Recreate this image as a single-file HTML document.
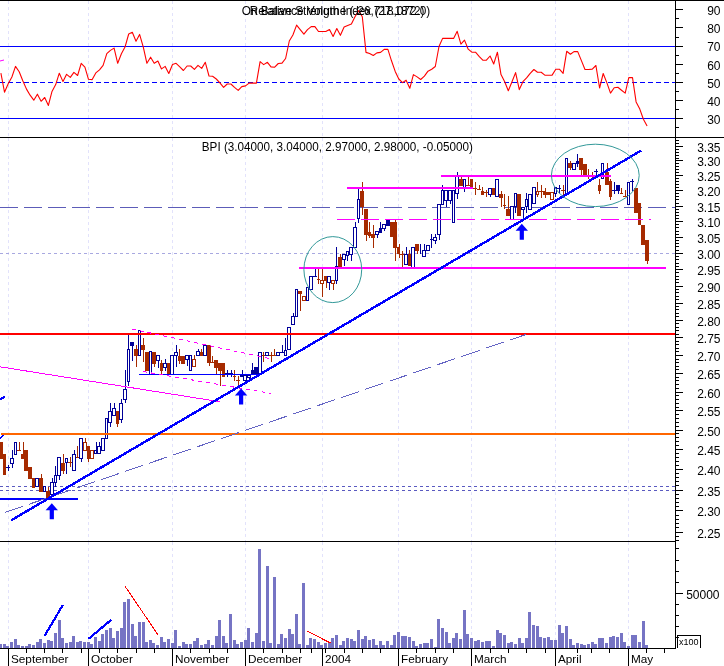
<!DOCTYPE html>
<html lang="en"><head><meta charset="utf-8"><title>BPI chart</title>
<style>html,body{margin:0;padding:0;background:#fff}svg{display:block}text{font-family:"Liberation Sans",Arial,sans-serif;fill:#000}</style></head><body>
<svg width="724" height="666" viewBox="0 0 724 666">
<rect x="0" y="0" width="724" height="666" fill="#fff"/>
<g shape-rendering="crispEdges" stroke="#e2e2fb" stroke-width="1" stroke-dasharray="3 3">
<line x1="8.5" y1="1" x2="8.5" y2="137"/>
<line x1="8.5" y1="138" x2="8.5" y2="541"/>
<line x1="8.5" y1="542" x2="8.5" y2="648"/>
<line x1="88.5" y1="1" x2="88.5" y2="137"/>
<line x1="88.5" y1="138" x2="88.5" y2="541"/>
<line x1="88.5" y1="542" x2="88.5" y2="648"/>
<line x1="172.5" y1="1" x2="172.5" y2="137"/>
<line x1="172.5" y1="138" x2="172.5" y2="541"/>
<line x1="172.5" y1="542" x2="172.5" y2="648"/>
<line x1="245.5" y1="1" x2="245.5" y2="137"/>
<line x1="245.5" y1="138" x2="245.5" y2="541"/>
<line x1="245.5" y1="542" x2="245.5" y2="648"/>
<line x1="322.5" y1="1" x2="322.5" y2="137"/>
<line x1="322.5" y1="138" x2="322.5" y2="541"/>
<line x1="322.5" y1="542" x2="322.5" y2="648"/>
<line x1="398.5" y1="1" x2="398.5" y2="137"/>
<line x1="398.5" y1="138" x2="398.5" y2="541"/>
<line x1="398.5" y1="542" x2="398.5" y2="648"/>
<line x1="471.5" y1="1" x2="471.5" y2="137"/>
<line x1="471.5" y1="138" x2="471.5" y2="541"/>
<line x1="471.5" y1="542" x2="471.5" y2="648"/>
<line x1="555.5" y1="1" x2="555.5" y2="137"/>
<line x1="555.5" y1="138" x2="555.5" y2="541"/>
<line x1="555.5" y1="542" x2="555.5" y2="648"/>
<line x1="628.5" y1="1" x2="628.5" y2="137"/>
<line x1="628.5" y1="138" x2="628.5" y2="541"/>
<line x1="628.5" y1="542" x2="628.5" y2="648"/>
</g>
<g shape-rendering="crispEdges" stroke="#0000ff" stroke-width="1">
<line x1="0" y1="46.5" x2="675" y2="46.5"/>
<line x1="0" y1="118.5" x2="675" y2="118.5"/>
<line x1="0" y1="82.5" x2="675" y2="82.5" stroke-dasharray="5 3"/>
</g>
<polyline points="0.9,73.2 4.5,92.2 8.2,83.8 11.9,77.0 15.5,66.4 19.2,71.7 22.8,80.8 26.5,89.1 30.1,95.2 33.8,100.2 37.4,94.2 41.1,101.3 44.7,97.5 48.4,105.4 52.0,91.4 55.7,84.6 59.3,73.2 63.0,81.6 66.6,74.3 70.3,77.4 73.9,72.4 77.6,75.5 81.2,63.3 84.9,67.1 88.5,79.3 92.2,79.6 95.8,72.9 99.5,69.8 103.1,65.3 106.8,53.7 110.4,50.4 114.1,48.1 117.7,63.3 121.4,53.7 125.0,47.1 128.7,34.0 132.3,32.2 136.0,41.3 139.6,34.4 143.3,47.1 146.9,63.3 150.6,57.2 154.2,63.3 157.9,61.0 161.5,68.9 165.2,66.4 168.8,73.5 172.5,64.5 176.1,63.3 179.8,66.8 183.4,70.5 187.1,66.0 190.7,66.0 194.4,69.4 198.0,65.3 201.7,68.4 205.3,62.3 209.0,76.0 212.6,76.3 216.3,79.0 219.9,82.8 223.6,87.4 227.2,84.0 230.9,84.0 234.5,87.4 238.2,90.4 241.8,86.6 245.5,85.9 249.1,83.1 252.8,83.1 256.4,83.1 260.1,61.6 263.7,64.6 267.4,62.3 271.0,66.9 274.7,67.2 278.3,63.5 282.0,63.1 285.6,58.5 289.3,41.0 292.9,35.0 296.6,25.1 300.2,29.6 303.9,34.2 307.5,29.6 311.2,26.6 314.9,26.6 318.5,31.5 322.2,31.5 325.8,31.5 329.5,29.6 333.1,36.5 336.8,28.6 340.4,35.3 344.1,27.1 347.7,25.5 351.4,24.0 355.0,16.7 358.7,10.6 362.3,16.7 366.0,52.4 369.6,53.5 373.3,55.5 376.9,52.9 380.6,52.4 384.2,49.4 387.9,49.4 391.5,60.8 395.2,71.4 398.8,79.0 402.5,82.6 406.1,80.2 409.8,88.3 413.4,74.6 417.1,76.9 420.7,79.5 424.4,76.1 428.0,71.2 431.7,69.3 435.3,66.5 439.0,46.5 442.6,38.4 446.3,38.4 449.9,38.4 453.6,38.4 457.2,31.3 460.9,44.2 464.5,40.1 468.2,49.2 471.8,52.2 475.5,52.2 479.1,56.4 482.8,60.2 486.4,60.2 490.1,56.0 493.7,64.0 497.4,52.2 501.0,74.6 504.7,81.7 508.3,90.8 512.0,81.7 515.6,72.6 519.3,89.6 522.9,81.7 526.6,77.9 530.2,73.3 533.9,69.5 537.5,72.2 541.2,72.2 544.8,75.1 548.5,75.3 552.1,75.1 555.8,69.2 559.4,69.2 563.1,73.3 566.7,51.3 570.4,54.3 574.0,51.6 577.7,51.6 581.3,60.4 585.0,69.5 588.6,69.5 592.3,69.1 595.9,65.5 599.6,88.0 603.2,73.5 606.9,82.9 610.5,93.1 614.2,87.7 617.9,87.3 621.5,90.2 625.2,93.1 628.8,77.6 632.5,77.6 636.1,101.9 639.8,109.1 643.4,119.3 647.1,125.9" fill="none" stroke="#ff0000" stroke-width="1.1" stroke-linejoin="round"/>
<line x1="0" y1="61" x2="4" y2="60" stroke="#ff00ff" stroke-width="1"/>
<g shape-rendering="crispEdges">
<line x1="0" y1="253.5" x2="675" y2="253.5" stroke="#a8a8e0" stroke-dasharray="3 3"/>
<line x1="0" y1="486.5" x2="675" y2="486.5" stroke="#5a5ac0" stroke-dasharray="3 3"/>
<line x1="0" y1="490.5" x2="675" y2="490.5" stroke="#5a5ac0" stroke-dasharray="3 3"/>
<line x1="0" y1="207.5" x2="675" y2="207.5" stroke="#5c5cb8" stroke-dasharray="18 6"/>
</g>
<g shape-rendering="crispEdges">
<rect x="-1" y="442" width="4" height="17" fill="#a62a00"/>
<rect x="3" y="454" width="3" height="21" fill="#a62a00"/>
<line x1="8.5" y1="465" x2="8.5" y2="471" stroke="#000099"/>
<line x1="6" y1="467.5" x2="10" y2="467.5" stroke="#000099"/>
<line x1="12.5" y1="450" x2="12.5" y2="458" stroke="#000099"/>
<line x1="12.5" y1="463" x2="12.5" y2="468" stroke="#000099"/>
<rect x="10.5" y="458.5" width="3" height="5" fill="#fff" stroke="#000099"/>
<rect x="14.5" y="442.5" width="2" height="12" fill="#fff" stroke="#000099"/>
<line x1="19.5" y1="442" x2="19.5" y2="451" stroke="#a62a00"/>
<line x1="17" y1="450.5" x2="21" y2="450.5" stroke="#a62a00"/>
<line x1="23.5" y1="442" x2="23.5" y2="454" stroke="#a62a00"/>
<rect x="21" y="454" width="3" height="5" fill="#a62a00"/>
<rect x="24" y="450" width="4" height="21" fill="#a62a00"/>
<rect x="28" y="467" width="4" height="12" fill="#a62a00"/>
<rect x="32" y="478" width="3" height="10" fill="#a62a00"/>
<rect x="35.5" y="478.5" width="3" height="8" fill="#fff" stroke="#000099"/>
<line x1="41.5" y1="474" x2="41.5" y2="478" stroke="#a62a00"/>
<rect x="39" y="478" width="4" height="14" fill="#a62a00"/>
<rect x="43.5" y="486.5" width="2" height="5" fill="#fff" stroke="#000099"/>
<line x1="48.5" y1="487" x2="48.5" y2="491" stroke="#a62a00"/>
<rect x="46" y="491" width="4" height="7" fill="#a62a00"/>
<line x1="52.5" y1="478" x2="52.5" y2="482" stroke="#000099"/>
<rect x="50.5" y="482.5" width="3" height="12" fill="#fff" stroke="#000099"/>
<line x1="55.5" y1="466" x2="55.5" y2="475" stroke="#000099"/>
<line x1="55.5" y1="482" x2="55.5" y2="487" stroke="#000099"/>
<rect x="54.5" y="475.5" width="2" height="7" fill="#fff" stroke="#000099"/>
<line x1="59.5" y1="475" x2="59.5" y2="480" stroke="#000099"/>
<rect x="57.5" y="457.5" width="3" height="18" fill="#fff" stroke="#000099"/>
<line x1="63.5" y1="454" x2="63.5" y2="463" stroke="#a62a00"/>
<line x1="63.5" y1="470" x2="63.5" y2="474" stroke="#a62a00"/>
<rect x="61" y="463" width="4" height="8" fill="#a62a00"/>
<line x1="66.5" y1="462" x2="66.5" y2="474" stroke="#000099"/>
<rect x="65.5" y="458.5" width="2" height="4" fill="#fff" stroke="#000099"/>
<line x1="70.5" y1="457" x2="70.5" y2="467" stroke="#a62a00"/>
<line x1="68" y1="462.5" x2="72" y2="462.5" stroke="#a62a00"/>
<line x1="74.5" y1="450" x2="74.5" y2="454" stroke="#000099"/>
<rect x="72.5" y="454.5" width="3" height="16" fill="#fff" stroke="#000099"/>
<line x1="77.5" y1="446" x2="77.5" y2="458" stroke="#a62a00"/>
<line x1="76" y1="457.5" x2="79" y2="457.5" stroke="#a62a00"/>
<line x1="81.5" y1="458" x2="81.5" y2="462" stroke="#000099"/>
<rect x="79.5" y="438.5" width="3" height="20" fill="#fff" stroke="#000099"/>
<line x1="85.5" y1="438" x2="85.5" y2="442" stroke="#a62a00"/>
<rect x="83.5" y="442.5" width="3" height="8" fill="#fff" stroke="#a62a00"/>
<line x1="88.5" y1="458" x2="88.5" y2="462" stroke="#a62a00"/>
<rect x="87" y="446" width="3" height="13" fill="#a62a00"/>
<rect x="90.5" y="450.5" width="3" height="8" fill="#fff" stroke="#a62a00"/>
<line x1="96.5" y1="442" x2="96.5" y2="450" stroke="#000099"/>
<rect x="94.5" y="450.5" width="2" height="3" fill="#fff" stroke="#000099"/>
<line x1="99.5" y1="442" x2="99.5" y2="446" stroke="#000099"/>
<rect x="97.5" y="446.5" width="3" height="7" fill="#fff" stroke="#000099"/>
<rect x="101.5" y="438.5" width="3" height="12" fill="#fff" stroke="#000099"/>
<rect x="105.5" y="418.5" width="2" height="20" fill="#fff" stroke="#000099"/>
<line x1="110.5" y1="403" x2="110.5" y2="411" stroke="#000099"/>
<line x1="110.5" y1="422" x2="110.5" y2="427" stroke="#000099"/>
<rect x="108.5" y="411.5" width="3" height="11" fill="#fff" stroke="#000099"/>
<line x1="114.5" y1="403" x2="114.5" y2="408" stroke="#000099"/>
<rect x="112.5" y="408.5" width="3" height="7" fill="#fff" stroke="#000099"/>
<line x1="117.5" y1="423" x2="117.5" y2="427" stroke="#a62a00"/>
<rect x="116" y="411" width="3" height="13" fill="#a62a00"/>
<line x1="121.5" y1="399" x2="121.5" y2="403" stroke="#000099"/>
<line x1="121.5" y1="419" x2="121.5" y2="423" stroke="#000099"/>
<rect x="119.5" y="403.5" width="3" height="16" fill="#fff" stroke="#000099"/>
<line x1="125.5" y1="370" x2="125.5" y2="389" stroke="#000099"/>
<line x1="125.5" y1="399" x2="125.5" y2="403" stroke="#000099"/>
<rect x="123.5" y="389.5" width="3" height="10" fill="#fff" stroke="#000099"/>
<line x1="128.5" y1="335" x2="128.5" y2="349" stroke="#000099"/>
<line x1="128.5" y1="381" x2="128.5" y2="386" stroke="#000099"/>
<rect x="127.5" y="349.5" width="2" height="32" fill="#fff" stroke="#000099"/>
<line x1="132.5" y1="345" x2="132.5" y2="361" stroke="#000099"/>
<rect x="130" y="342" width="4" height="4" fill="#000099"/>
<line x1="136.5" y1="345" x2="136.5" y2="349" stroke="#a62a00"/>
<line x1="136.5" y1="355" x2="136.5" y2="367" stroke="#a62a00"/>
<rect x="134" y="349" width="4" height="7" fill="#a62a00"/>
<rect x="138.5" y="330.5" width="2" height="25" fill="#fff" stroke="#000099"/>
<line x1="143.5" y1="338" x2="143.5" y2="345" stroke="#a62a00"/>
<line x1="143.5" y1="349" x2="143.5" y2="362" stroke="#a62a00"/>
<rect x="141" y="345" width="4" height="5" fill="#a62a00"/>
<rect x="145" y="352" width="4" height="19" fill="#a62a00"/>
<rect x="149.5" y="351.5" width="2" height="23" fill="#fff" stroke="#000099"/>
<line x1="154.5" y1="363" x2="154.5" y2="367" stroke="#a62a00"/>
<rect x="152" y="352" width="4" height="12" fill="#a62a00"/>
<line x1="158.5" y1="360" x2="158.5" y2="368" stroke="#000099"/>
<rect x="156.5" y="355.5" width="3" height="5" fill="#fff" stroke="#000099"/>
<line x1="161.5" y1="360" x2="161.5" y2="363" stroke="#a62a00"/>
<line x1="161.5" y1="370" x2="161.5" y2="375" stroke="#a62a00"/>
<rect x="160" y="363" width="3" height="8" fill="#a62a00"/>
<line x1="165.5" y1="359" x2="165.5" y2="363" stroke="#000099"/>
<line x1="165.5" y1="367" x2="165.5" y2="371" stroke="#000099"/>
<rect x="163.5" y="363.5" width="3" height="4" fill="#fff" stroke="#000099"/>
<rect x="167" y="363" width="3" height="12" fill="#a62a00"/>
<rect x="170.5" y="355.5" width="3" height="19" fill="#fff" stroke="#000099"/>
<line x1="176.5" y1="345" x2="176.5" y2="352" stroke="#000099"/>
<line x1="176.5" y1="355" x2="176.5" y2="367" stroke="#000099"/>
<rect x="174.5" y="352.5" width="3" height="3" fill="#fff" stroke="#000099"/>
<line x1="179.5" y1="349" x2="179.5" y2="356" stroke="#a62a00"/>
<line x1="179.5" y1="360" x2="179.5" y2="364" stroke="#a62a00"/>
<rect x="178" y="356" width="3" height="5" fill="#a62a00"/>
<rect x="181" y="356" width="4" height="8" fill="#a62a00"/>
<line x1="187.5" y1="359" x2="187.5" y2="366" stroke="#000099"/>
<rect x="185.5" y="355.5" width="3" height="4" fill="#fff" stroke="#000099"/>
<rect x="189.5" y="355.5" width="2" height="15" fill="#fff" stroke="#000099"/>
<line x1="194.5" y1="355" x2="194.5" y2="359" stroke="#a62a00"/>
<rect x="192.5" y="359.5" width="3" height="7" fill="#fff" stroke="#a62a00"/>
<line x1="198.5" y1="349" x2="198.5" y2="351" stroke="#000099"/>
<rect x="196.5" y="351.5" width="3" height="4" fill="#fff" stroke="#000099"/>
<line x1="201.5" y1="349" x2="201.5" y2="352" stroke="#a62a00"/>
<rect x="200" y="352" width="3" height="4" fill="#a62a00"/>
<rect x="203.5" y="345.5" width="3" height="10" fill="#fff" stroke="#000099"/>
<line x1="209.5" y1="362" x2="209.5" y2="366" stroke="#a62a00"/>
<rect x="207" y="345" width="4" height="18" fill="#a62a00"/>
<line x1="212.5" y1="356" x2="212.5" y2="363" stroke="#a62a00"/>
<line x1="211" y1="362.5" x2="214" y2="362.5" stroke="#a62a00"/>
<line x1="216.5" y1="367" x2="216.5" y2="375" stroke="#a62a00"/>
<rect x="214" y="360" width="4" height="8" fill="#a62a00"/>
<line x1="220.5" y1="370" x2="220.5" y2="386" stroke="#a62a00"/>
<rect x="218" y="363" width="4" height="8" fill="#a62a00"/>
<rect x="222" y="363" width="3" height="14" fill="#a62a00"/>
<line x1="227.5" y1="370" x2="227.5" y2="377" stroke="#000099"/>
<line x1="225" y1="373.5" x2="229" y2="373.5" stroke="#000099"/>
<line x1="231.5" y1="370" x2="231.5" y2="377" stroke="#000099"/>
<line x1="229" y1="373.5" x2="233" y2="373.5" stroke="#000099"/>
<line x1="234.5" y1="370" x2="234.5" y2="381" stroke="#a62a00"/>
<line x1="233" y1="376.5" x2="236" y2="376.5" stroke="#a62a00"/>
<line x1="238.5" y1="376" x2="238.5" y2="386" stroke="#a62a00"/>
<line x1="236" y1="380.5" x2="240" y2="380.5" stroke="#a62a00"/>
<line x1="242.5" y1="370" x2="242.5" y2="375" stroke="#000099"/>
<rect x="240.5" y="375.5" width="2" height="1" fill="#fff" stroke="#000099"/>
<rect x="243.5" y="375.5" width="3" height="5" fill="#fff" stroke="#000099"/>
<line x1="249.5" y1="377" x2="249.5" y2="381" stroke="#000099"/>
<rect x="247.5" y="375.5" width="3" height="2" fill="#fff" stroke="#000099"/>
<line x1="252.5" y1="363" x2="252.5" y2="370" stroke="#000099"/>
<rect x="251" y="370" width="3" height="4" fill="#000099"/>
<rect x="254" y="367" width="4" height="8" fill="#000099"/>
<rect x="258.5" y="352.5" width="3" height="21" fill="#fff" stroke="#000099"/>
<line x1="263.5" y1="352" x2="263.5" y2="362" stroke="#a62a00"/>
<line x1="262" y1="355.5" x2="265" y2="355.5" stroke="#a62a00"/>
<rect x="265.5" y="352.5" width="3" height="3" fill="#fff" stroke="#000099"/>
<line x1="271.5" y1="352" x2="271.5" y2="362" stroke="#a62a00"/>
<line x1="269" y1="355.5" x2="273" y2="355.5" stroke="#a62a00"/>
<line x1="274.5" y1="349" x2="274.5" y2="356" stroke="#a62a00"/>
<line x1="273" y1="355.5" x2="276" y2="355.5" stroke="#a62a00"/>
<rect x="276.5" y="352.5" width="3" height="3" fill="#fff" stroke="#000099"/>
<line x1="282.5" y1="345" x2="282.5" y2="353" stroke="#000099"/>
<line x1="280" y1="352.5" x2="284" y2="352.5" stroke="#000099"/>
<line x1="285.5" y1="338" x2="285.5" y2="350" stroke="#000099"/>
<rect x="284.5" y="350.5" width="2" height="5" fill="#fff" stroke="#000099"/>
<rect x="287.5" y="327.5" width="3" height="22" fill="#fff" stroke="#000099"/>
<line x1="293.5" y1="313" x2="293.5" y2="316" stroke="#000099"/>
<rect x="291.5" y="316.5" width="3" height="8" fill="#fff" stroke="#000099"/>
<rect x="295.5" y="289.5" width="2" height="27" fill="#fff" stroke="#000099"/>
<line x1="300.5" y1="293" x2="300.5" y2="311" stroke="#a62a00"/>
<rect x="298" y="291" width="4" height="3" fill="#a62a00"/>
<rect x="302.5" y="296.5" width="3" height="4" fill="#fff" stroke="#a62a00"/>
<rect x="306.5" y="287.5" width="2" height="13" fill="#fff" stroke="#000099"/>
<rect x="309.5" y="276.5" width="3" height="13" fill="#fff" stroke="#000099"/>
<line x1="315.5" y1="268" x2="315.5" y2="277" stroke="#000099"/>
<line x1="313" y1="276.5" x2="317" y2="276.5" stroke="#000099"/>
<line x1="318.5" y1="268" x2="318.5" y2="284" stroke="#a62a00"/>
<line x1="317" y1="279.5" x2="320" y2="279.5" stroke="#a62a00"/>
<line x1="322.5" y1="268" x2="322.5" y2="280" stroke="#a62a00"/>
<line x1="322.5" y1="283" x2="322.5" y2="297" stroke="#a62a00"/>
<rect x="320.5" y="280.5" width="3" height="3" fill="#fff" stroke="#a62a00"/>
<line x1="326.5" y1="280" x2="326.5" y2="288" stroke="#a62a00"/>
<rect x="324" y="276" width="3" height="5" fill="#a62a00"/>
<line x1="329.5" y1="282" x2="329.5" y2="290" stroke="#000099"/>
<rect x="327.5" y="276.5" width="3" height="6" fill="#fff" stroke="#000099"/>
<line x1="333.5" y1="283" x2="333.5" y2="290" stroke="#a62a00"/>
<rect x="331.5" y="280.5" width="3" height="3" fill="#fff" stroke="#a62a00"/>
<line x1="336.5" y1="247" x2="336.5" y2="266" stroke="#000099"/>
<line x1="336.5" y1="280" x2="336.5" y2="284" stroke="#000099"/>
<rect x="335.5" y="266.5" width="2" height="14" fill="#fff" stroke="#000099"/>
<line x1="340.5" y1="254" x2="340.5" y2="257" stroke="#a62a00"/>
<rect x="338" y="257" width="4" height="11" fill="#a62a00"/>
<line x1="344.5" y1="259" x2="344.5" y2="266" stroke="#000099"/>
<rect x="342.5" y="254.5" width="3" height="5" fill="#fff" stroke="#000099"/>
<line x1="347.5" y1="255" x2="347.5" y2="261" stroke="#000099"/>
<rect x="346.5" y="251.5" width="2" height="4" fill="#fff" stroke="#000099"/>
<line x1="351.5" y1="254" x2="351.5" y2="261" stroke="#000099"/>
<rect x="349.5" y="247.5" width="3" height="7" fill="#fff" stroke="#000099"/>
<line x1="355.5" y1="222" x2="355.5" y2="227" stroke="#000099"/>
<rect x="353.5" y="227.5" width="3" height="20" fill="#fff" stroke="#000099"/>
<line x1="358.5" y1="188" x2="358.5" y2="199" stroke="#000099"/>
<line x1="358.5" y1="218" x2="358.5" y2="223" stroke="#000099"/>
<rect x="357.5" y="199.5" width="2" height="19" fill="#fff" stroke="#000099"/>
<line x1="362.5" y1="182" x2="362.5" y2="191" stroke="#a62a00"/>
<line x1="362.5" y1="206" x2="362.5" y2="215" stroke="#a62a00"/>
<rect x="360" y="191" width="4" height="16" fill="#a62a00"/>
<line x1="366.5" y1="234" x2="366.5" y2="241" stroke="#a62a00"/>
<rect x="364" y="209" width="4" height="26" fill="#a62a00"/>
<line x1="369.5" y1="222" x2="369.5" y2="232" stroke="#a62a00"/>
<line x1="369.5" y1="235" x2="369.5" y2="238" stroke="#a62a00"/>
<rect x="368" y="232" width="3" height="4" fill="#a62a00"/>
<line x1="373.5" y1="225" x2="373.5" y2="234" stroke="#a62a00"/>
<line x1="373.5" y1="237" x2="373.5" y2="248" stroke="#a62a00"/>
<rect x="371" y="234" width="4" height="4" fill="#a62a00"/>
<line x1="377.5" y1="234" x2="377.5" y2="238" stroke="#000099"/>
<rect x="375.5" y="231.5" width="3" height="3" fill="#fff" stroke="#000099"/>
<line x1="380.5" y1="222" x2="380.5" y2="228" stroke="#000099"/>
<rect x="379" y="228" width="3" height="5" fill="#000099"/>
<line x1="384.5" y1="228" x2="384.5" y2="231" stroke="#000099"/>
<rect x="382.5" y="224.5" width="3" height="4" fill="#fff" stroke="#000099"/>
<rect x="386" y="220" width="4" height="6" fill="#000099"/>
<rect x="390" y="222" width="3" height="15" fill="#a62a00"/>
<line x1="395.5" y1="220" x2="395.5" y2="222" stroke="#a62a00"/>
<line x1="395.5" y1="247" x2="395.5" y2="261" stroke="#a62a00"/>
<rect x="393" y="222" width="4" height="26" fill="#a62a00"/>
<line x1="399.5" y1="244" x2="399.5" y2="247" stroke="#a62a00"/>
<line x1="399.5" y1="253" x2="399.5" y2="258" stroke="#a62a00"/>
<rect x="397" y="247" width="3" height="7" fill="#a62a00"/>
<line x1="402.5" y1="251" x2="402.5" y2="267" stroke="#a62a00"/>
<line x1="400" y1="254.5" x2="404" y2="254.5" stroke="#a62a00"/>
<line x1="406.5" y1="247" x2="406.5" y2="254" stroke="#000099"/>
<rect x="404.5" y="254.5" width="3" height="10" fill="#fff" stroke="#000099"/>
<line x1="409.5" y1="250" x2="409.5" y2="254" stroke="#a62a00"/>
<rect x="408" y="254" width="3" height="12" fill="#a62a00"/>
<rect x="411.5" y="247.5" width="3" height="20" fill="#fff" stroke="#000099"/>
<line x1="417.5" y1="250" x2="417.5" y2="254" stroke="#a62a00"/>
<rect x="415" y="244" width="4" height="7" fill="#a62a00"/>
<line x1="420.5" y1="244" x2="420.5" y2="254" stroke="#000099"/>
<line x1="424.5" y1="244" x2="424.5" y2="250" stroke="#000099"/>
<rect x="422.5" y="250.5" width="3" height="6" fill="#fff" stroke="#000099"/>
<rect x="426.5" y="245.5" width="3" height="5" fill="#fff" stroke="#000099"/>
<line x1="431.5" y1="234" x2="431.5" y2="248" stroke="#000099"/>
<line x1="430" y1="239.5" x2="433" y2="239.5" stroke="#000099"/>
<line x1="435.5" y1="234" x2="435.5" y2="237" stroke="#000099"/>
<line x1="435.5" y1="240" x2="435.5" y2="244" stroke="#000099"/>
<rect x="433.5" y="237.5" width="3" height="3" fill="#fff" stroke="#000099"/>
<line x1="439.5" y1="234" x2="439.5" y2="240" stroke="#000099"/>
<rect x="437.5" y="204.5" width="3" height="30" fill="#fff" stroke="#000099"/>
<line x1="442.5" y1="185" x2="442.5" y2="190" stroke="#000099"/>
<rect x="441.5" y="190.5" width="2" height="14" fill="#fff" stroke="#000099"/>
<line x1="446.5" y1="200" x2="446.5" y2="207" stroke="#000099"/>
<rect x="444.5" y="190.5" width="3" height="10" fill="#fff" stroke="#000099"/>
<line x1="450.5" y1="200" x2="450.5" y2="204" stroke="#000099"/>
<rect x="448.5" y="190.5" width="3" height="10" fill="#fff" stroke="#000099"/>
<rect x="452.5" y="190.5" width="2" height="32" fill="#fff" stroke="#000099"/>
<line x1="457.5" y1="172" x2="457.5" y2="176" stroke="#000099"/>
<line x1="457.5" y1="193" x2="457.5" y2="199" stroke="#000099"/>
<rect x="455.5" y="176.5" width="3" height="17" fill="#fff" stroke="#000099"/>
<line x1="461.5" y1="176" x2="461.5" y2="179" stroke="#a62a00"/>
<rect x="459" y="179" width="4" height="7" fill="#a62a00"/>
<line x1="464.5" y1="188" x2="464.5" y2="192" stroke="#000099"/>
<rect x="463.5" y="179.5" width="2" height="9" fill="#fff" stroke="#000099"/>
<line x1="468.5" y1="177" x2="468.5" y2="186" stroke="#a62a00"/>
<line x1="466" y1="185.5" x2="470" y2="185.5" stroke="#a62a00"/>
<rect x="470" y="179" width="3" height="9" fill="#a62a00"/>
<line x1="475.5" y1="182" x2="475.5" y2="195" stroke="#a62a00"/>
<line x1="473" y1="188.5" x2="477" y2="188.5" stroke="#a62a00"/>
<line x1="479.5" y1="185" x2="479.5" y2="190" stroke="#a62a00"/>
<line x1="477" y1="189.5" x2="481" y2="189.5" stroke="#a62a00"/>
<line x1="482.5" y1="187" x2="482.5" y2="191" stroke="#a62a00"/>
<rect x="481" y="191" width="3" height="4" fill="#a62a00"/>
<line x1="486.5" y1="190" x2="486.5" y2="197" stroke="#a62a00"/>
<line x1="484" y1="192.5" x2="488" y2="192.5" stroke="#a62a00"/>
<line x1="490.5" y1="194" x2="490.5" y2="197" stroke="#000099"/>
<rect x="488.5" y="188.5" width="3" height="6" fill="#fff" stroke="#000099"/>
<rect x="492" y="188" width="3" height="7" fill="#a62a00"/>
<rect x="495.5" y="179.5" width="3" height="17" fill="#fff" stroke="#000099"/>
<line x1="501.5" y1="191" x2="501.5" y2="194" stroke="#a62a00"/>
<line x1="501.5" y1="197" x2="501.5" y2="207" stroke="#a62a00"/>
<rect x="499" y="194" width="4" height="4" fill="#a62a00"/>
<line x1="504.5" y1="194" x2="504.5" y2="209" stroke="#a62a00"/>
<line x1="503" y1="205.5" x2="506" y2="205.5" stroke="#a62a00"/>
<line x1="508.5" y1="196" x2="508.5" y2="209" stroke="#a62a00"/>
<rect x="506" y="209" width="4" height="7" fill="#a62a00"/>
<rect x="510.5" y="206.5" width="3" height="13" fill="#fff" stroke="#000099"/>
<line x1="515.5" y1="206" x2="515.5" y2="213" stroke="#000099"/>
<rect x="514.5" y="193.5" width="2" height="13" fill="#fff" stroke="#000099"/>
<rect x="517" y="194" width="4" height="22" fill="#a62a00"/>
<line x1="523.5" y1="209" x2="523.5" y2="220" stroke="#000099"/>
<rect x="521.5" y="207.5" width="3" height="2" fill="#fff" stroke="#000099"/>
<line x1="526.5" y1="193" x2="526.5" y2="199" stroke="#000099"/>
<line x1="526.5" y1="206" x2="526.5" y2="213" stroke="#000099"/>
<rect x="525.5" y="199.5" width="2" height="7" fill="#fff" stroke="#000099"/>
<rect x="528.5" y="194.5" width="3" height="15" fill="#fff" stroke="#000099"/>
<rect x="532.5" y="187.5" width="3" height="16" fill="#fff" stroke="#000099"/>
<line x1="537.5" y1="182" x2="537.5" y2="191" stroke="#a62a00"/>
<line x1="537.5" y1="194" x2="537.5" y2="197" stroke="#a62a00"/>
<rect x="536.5" y="191.5" width="2" height="3" fill="#fff" stroke="#a62a00"/>
<line x1="541.5" y1="185" x2="541.5" y2="198" stroke="#a62a00"/>
<line x1="539" y1="191.5" x2="543" y2="191.5" stroke="#a62a00"/>
<line x1="545.5" y1="188" x2="545.5" y2="191" stroke="#a62a00"/>
<line x1="545.5" y1="194" x2="545.5" y2="198" stroke="#a62a00"/>
<rect x="543" y="191" width="3" height="4" fill="#a62a00"/>
<rect x="546" y="192" width="4" height="3" fill="#a62a00"/>
<rect x="550.5" y="192.5" width="3" height="7" fill="#fff" stroke="#a62a00"/>
<line x1="555.5" y1="193" x2="555.5" y2="197" stroke="#000099"/>
<rect x="554.5" y="187.5" width="2" height="6" fill="#fff" stroke="#000099"/>
<line x1="559.5" y1="185" x2="559.5" y2="193" stroke="#000099"/>
<line x1="557" y1="188.5" x2="561" y2="188.5" stroke="#000099"/>
<line x1="563.5" y1="185" x2="563.5" y2="195" stroke="#a62a00"/>
<line x1="561" y1="190.5" x2="565" y2="190.5" stroke="#a62a00"/>
<rect x="565.5" y="158.5" width="2" height="35" fill="#fff" stroke="#000099"/>
<line x1="570.5" y1="161" x2="570.5" y2="163" stroke="#a62a00"/>
<line x1="570.5" y1="167" x2="570.5" y2="170" stroke="#a62a00"/>
<rect x="568" y="163" width="4" height="5" fill="#a62a00"/>
<rect x="572.5" y="163.5" width="3" height="6" fill="#fff" stroke="#000099"/>
<line x1="577.5" y1="154" x2="577.5" y2="161" stroke="#000099"/>
<line x1="577.5" y1="163" x2="577.5" y2="167" stroke="#000099"/>
<rect x="576" y="161" width="3" height="3" fill="#000099"/>
<line x1="581.5" y1="169" x2="581.5" y2="176" stroke="#a62a00"/>
<rect x="579" y="158" width="4" height="12" fill="#a62a00"/>
<rect x="583" y="164" width="4" height="12" fill="#a62a00"/>
<line x1="588.5" y1="169" x2="588.5" y2="179" stroke="#a62a00"/>
<line x1="592.5" y1="172" x2="592.5" y2="179" stroke="#a62a00"/>
<line x1="596.5" y1="169" x2="596.5" y2="177" stroke="#000099"/>
<line x1="594" y1="171.5" x2="598" y2="171.5" stroke="#000099"/>
<line x1="599.5" y1="179" x2="599.5" y2="185" stroke="#a62a00"/>
<line x1="599.5" y1="190" x2="599.5" y2="194" stroke="#a62a00"/>
<rect x="598" y="185" width="3" height="6" fill="#a62a00"/>
<rect x="601.5" y="163.5" width="2" height="15" fill="#fff" stroke="#000099"/>
<line x1="607.5" y1="163" x2="607.5" y2="172" stroke="#a62a00"/>
<rect x="605" y="172" width="4" height="13" fill="#a62a00"/>
<line x1="610.5" y1="179" x2="610.5" y2="181" stroke="#a62a00"/>
<line x1="610.5" y1="196" x2="610.5" y2="200" stroke="#a62a00"/>
<rect x="609" y="181" width="3" height="16" fill="#a62a00"/>
<line x1="614.5" y1="182" x2="614.5" y2="194" stroke="#000099"/>
<line x1="612" y1="190.5" x2="616" y2="190.5" stroke="#000099"/>
<line x1="618.5" y1="190" x2="618.5" y2="194" stroke="#000099"/>
<rect x="616" y="185" width="4" height="6" fill="#000099"/>
<line x1="621.5" y1="188" x2="621.5" y2="194" stroke="#a62a00"/>
<line x1="620" y1="193.5" x2="623" y2="193.5" stroke="#a62a00"/>
<line x1="625.5" y1="190" x2="625.5" y2="197" stroke="#a62a00"/>
<line x1="623" y1="196.5" x2="627" y2="196.5" stroke="#a62a00"/>
<rect x="627.5" y="182.5" width="2" height="22" fill="#fff" stroke="#000099"/>
<line x1="632.5" y1="179" x2="632.5" y2="191" stroke="#000099"/>
<line x1="630" y1="181.5" x2="634" y2="181.5" stroke="#000099"/>
<rect x="634" y="188" width="4" height="25" fill="#a62a00"/>
<rect x="638" y="203" width="3" height="22" fill="#a62a00"/>
<rect x="641" y="225" width="4" height="20" fill="#a62a00"/>
<line x1="647.5" y1="260" x2="647.5" y2="264" stroke="#a62a00"/>
<rect x="645" y="240" width="4" height="21" fill="#a62a00"/>
</g>
<g shape-rendering="crispEdges">
<rect x="0" y="333" width="675" height="2" fill="#ff0000"/>
<rect x="1" y="433" width="674" height="2" fill="#ff6600"/>
<rect x="299" y="267" width="367" height="2" fill="#ff00ff"/>
<rect x="347" y="187" width="126" height="2" fill="#ff00ff"/>
<rect x="441" y="175" width="170" height="2" fill="#ff00ff"/>
<line x1="337" y1="219.5" x2="651" y2="219.5" stroke="#ff00ff" stroke-width="1.4" stroke-dasharray="18 6"/>
<rect x="0" y="498" width="78" height="2" fill="#0000ff"/>
<line x1="139" y1="374.5" x2="258" y2="374.5" stroke="#0000ff"/>
<line x1="0" y1="366.8" x2="219.7" y2="401.7" stroke="#ff00ff" stroke-width="1"/>
<line x1="131.8" y1="329" x2="273.4" y2="359.4" stroke="#ff00ff" stroke-width="1" stroke-dasharray="4 4"/>
<line x1="143.2" y1="371.6" x2="271" y2="393.4" stroke="#ff00ff" stroke-width="1" stroke-dasharray="4 4"/>
<line x1="4.8" y1="512.5" x2="526.3" y2="334.4" stroke="#6464c4" stroke-width="1" stroke-dasharray="19 6.4"/>
<line x1="11.7" y1="520" x2="640.4" y2="151" stroke="#0000ff" stroke-width="2.4" stroke-linecap="round"/>
<line x1="0" y1="399.4" x2="4.7" y2="396.8" stroke="#0000ff" stroke-width="2.6"/>
<line x1="0" y1="438.4" x2="3.8" y2="435" stroke="#0000ff" stroke-width="1"/>
</g>
<ellipse cx="332.8" cy="269.6" rx="28.9" ry="33" fill="none" stroke="#339999" stroke-width="1"/>
<ellipse cx="595.3" cy="175.4" rx="43.9" ry="31.2" fill="none" stroke="#339999" stroke-width="1"/>
<polygon points="51.8,503.3 58.0,510.3 53.9,510.3 53.9,519.3 49.699999999999996,519.3 49.699999999999996,510.3 45.599999999999994,510.3" fill="#0000ff"/>
<polygon points="241.1,388.6 247.29999999999998,395.6 243.2,395.6 243.2,404.6 239.0,404.6 239.0,395.6 234.9,395.6" fill="#0000ff"/>
<polygon points="521.8,223.8 528.0,230.8 523.9,230.8 523.9,239.8 519.6999999999999,239.8 519.6999999999999,230.8 515.5999999999999,230.8" fill="#0000ff"/>
<g shape-rendering="crispEdges" fill="#7674c4">
<rect x="-1" y="644.0" width="3" height="4.0"/>
<rect x="3" y="644.0" width="3" height="4.0"/>
<rect x="6" y="646.3" width="3" height="1.7"/>
<rect x="10" y="642.4" width="3" height="5.6"/>
<rect x="14" y="639.3" width="3" height="8.7"/>
<rect x="17" y="645.1" width="3" height="2.9"/>
<rect x="21" y="646.2" width="3" height="1.8"/>
<rect x="25" y="646.2" width="3" height="1.8"/>
<rect x="28" y="644.0" width="3" height="4.0"/>
<rect x="32" y="645.4" width="3" height="2.6"/>
<rect x="36" y="641.8" width="3" height="6.2"/>
<rect x="39" y="639.3" width="3" height="8.7"/>
<rect x="43" y="643.3" width="3" height="4.7"/>
<rect x="47" y="640.1" width="3" height="7.9"/>
<rect x="50" y="641.0" width="3" height="7.0"/>
<rect x="54" y="633.3" width="3" height="14.7"/>
<rect x="58" y="620.3" width="3" height="27.7"/>
<rect x="61" y="638.3" width="3" height="9.7"/>
<rect x="65" y="643.3" width="3" height="4.7"/>
<rect x="69" y="642.1" width="3" height="5.9"/>
<rect x="72" y="636.3" width="3" height="11.7"/>
<rect x="76" y="642.4" width="3" height="5.6"/>
<rect x="79" y="641.0" width="3" height="7.0"/>
<rect x="83" y="642.4" width="3" height="5.6"/>
<rect x="87" y="642.4" width="3" height="5.6"/>
<rect x="90" y="644.4" width="3" height="3.6"/>
<rect x="94" y="637.2" width="3" height="10.8"/>
<rect x="98" y="641.0" width="3" height="7.0"/>
<rect x="101" y="634.2" width="3" height="13.8"/>
<rect x="105" y="630.2" width="3" height="17.8"/>
<rect x="109" y="627.6" width="3" height="20.4"/>
<rect x="112" y="638.3" width="3" height="9.7"/>
<rect x="116" y="631.4" width="3" height="16.6"/>
<rect x="120" y="627.6" width="3" height="20.4"/>
<rect x="123" y="602.3" width="3" height="45.7"/>
<rect x="127" y="599.2" width="3" height="48.8"/>
<rect x="131" y="623.5" width="3" height="24.5"/>
<rect x="134" y="636.0" width="3" height="12.0"/>
<rect x="138" y="621.6" width="3" height="26.4"/>
<rect x="142" y="621.6" width="3" height="26.4"/>
<rect x="145" y="642.1" width="3" height="5.9"/>
<rect x="149" y="640.2" width="3" height="7.8"/>
<rect x="152" y="643.3" width="3" height="4.7"/>
<rect x="156" y="645.1" width="3" height="2.9"/>
<rect x="160" y="637.2" width="3" height="10.8"/>
<rect x="163" y="642.4" width="3" height="5.6"/>
<rect x="167" y="639.0" width="3" height="9.0"/>
<rect x="171" y="642.8" width="3" height="5.2"/>
<rect x="174" y="630.2" width="3" height="17.8"/>
<rect x="178" y="646.2" width="3" height="1.8"/>
<rect x="182" y="642.1" width="3" height="5.9"/>
<rect x="185" y="644.0" width="3" height="4.0"/>
<rect x="189" y="644.0" width="3" height="4.0"/>
<rect x="193" y="641.0" width="3" height="7.0"/>
<rect x="196" y="638.3" width="3" height="9.7"/>
<rect x="200" y="645.1" width="3" height="2.9"/>
<rect x="204" y="644.4" width="3" height="3.6"/>
<rect x="207" y="640.2" width="3" height="7.8"/>
<rect x="211" y="644.9" width="3" height="3.1"/>
<rect x="215" y="636.0" width="3" height="12.0"/>
<rect x="218" y="619.5" width="3" height="28.5"/>
<rect x="222" y="636.3" width="3" height="11.7"/>
<rect x="225" y="643.3" width="3" height="4.7"/>
<rect x="229" y="614.1" width="3" height="33.9"/>
<rect x="233" y="640.1" width="3" height="7.9"/>
<rect x="236" y="644.1" width="3" height="3.9"/>
<rect x="240" y="642.2" width="3" height="5.8"/>
<rect x="244" y="640.1" width="3" height="7.9"/>
<rect x="247" y="628.2" width="3" height="19.8"/>
<rect x="251" y="642.2" width="3" height="5.8"/>
<rect x="255" y="633.1" width="3" height="14.9"/>
<rect x="258" y="549.3" width="3" height="98.7"/>
<rect x="262" y="640.9" width="3" height="7.1"/>
<rect x="266" y="566.3" width="3" height="81.7"/>
<rect x="269" y="643.3" width="3" height="4.7"/>
<rect x="273" y="577.3" width="3" height="70.7"/>
<rect x="277" y="644.1" width="3" height="3.9"/>
<rect x="280" y="634.4" width="3" height="13.6"/>
<rect x="284" y="638.4" width="3" height="9.6"/>
<rect x="288" y="628.7" width="3" height="19.3"/>
<rect x="291" y="634.1" width="3" height="13.9"/>
<rect x="295" y="614.1" width="3" height="33.9"/>
<rect x="298" y="644.1" width="3" height="3.9"/>
<rect x="302" y="582.5" width="3" height="65.5"/>
<rect x="306" y="645.4" width="3" height="2.6"/>
<rect x="309" y="637.5" width="3" height="10.5"/>
<rect x="313" y="639.0" width="3" height="9.0"/>
<rect x="317" y="642.4" width="3" height="5.6"/>
<rect x="320" y="645.1" width="3" height="2.9"/>
<rect x="324" y="643.3" width="3" height="4.7"/>
<rect x="328" y="643.3" width="3" height="4.7"/>
<rect x="331" y="637.5" width="3" height="10.5"/>
<rect x="335" y="635.2" width="3" height="12.8"/>
<rect x="339" y="645.1" width="3" height="2.9"/>
<rect x="342" y="641.3" width="3" height="6.7"/>
<rect x="346" y="638.3" width="3" height="9.7"/>
<rect x="350" y="639.0" width="3" height="9.0"/>
<rect x="353" y="640.6" width="3" height="7.4"/>
<rect x="357" y="629.5" width="3" height="18.5"/>
<rect x="361" y="639.0" width="3" height="9.0"/>
<rect x="364" y="636.3" width="3" height="11.7"/>
<rect x="368" y="640.1" width="3" height="7.9"/>
<rect x="372" y="639.0" width="3" height="9.0"/>
<rect x="375" y="645.1" width="3" height="2.9"/>
<rect x="379" y="641.3" width="3" height="6.7"/>
<rect x="382" y="645.1" width="3" height="2.9"/>
<rect x="386" y="641.3" width="3" height="6.7"/>
<rect x="390" y="645.1" width="3" height="2.9"/>
<rect x="393" y="635.2" width="3" height="12.8"/>
<rect x="397" y="632.2" width="3" height="15.8"/>
<rect x="401" y="636.3" width="3" height="11.7"/>
<rect x="404" y="636.3" width="3" height="11.7"/>
<rect x="408" y="637.2" width="3" height="10.8"/>
<rect x="412" y="641.3" width="3" height="6.7"/>
<rect x="415" y="646.3" width="3" height="1.7"/>
<rect x="419" y="644.0" width="3" height="4.0"/>
<rect x="423" y="643.3" width="3" height="4.7"/>
<rect x="426" y="643.3" width="3" height="4.7"/>
<rect x="430" y="639.3" width="3" height="8.7"/>
<rect x="434" y="647.1" width="3" height="0.9"/>
<rect x="437" y="619.3" width="3" height="28.7"/>
<rect x="441" y="628.4" width="3" height="19.6"/>
<rect x="445" y="632.2" width="3" height="15.8"/>
<rect x="448" y="643.3" width="3" height="4.7"/>
<rect x="452" y="638.3" width="3" height="9.7"/>
<rect x="455" y="633.4" width="3" height="14.6"/>
<rect x="459" y="639.0" width="3" height="9.0"/>
<rect x="463" y="610.2" width="3" height="37.8"/>
<rect x="466" y="634.2" width="3" height="13.8"/>
<rect x="470" y="638.3" width="3" height="9.7"/>
<rect x="474" y="640.6" width="3" height="7.4"/>
<rect x="477" y="640.2" width="3" height="7.8"/>
<rect x="481" y="642.1" width="3" height="5.9"/>
<rect x="485" y="641.3" width="3" height="6.7"/>
<rect x="488" y="641.3" width="3" height="6.7"/>
<rect x="492" y="646.2" width="3" height="1.8"/>
<rect x="496" y="629.5" width="3" height="18.5"/>
<rect x="499" y="632.5" width="3" height="15.5"/>
<rect x="503" y="635.2" width="3" height="12.8"/>
<rect x="507" y="643.3" width="3" height="4.7"/>
<rect x="510" y="642.1" width="3" height="5.9"/>
<rect x="514" y="644.4" width="3" height="3.6"/>
<rect x="518" y="637.5" width="3" height="10.5"/>
<rect x="521" y="643.3" width="3" height="4.7"/>
<rect x="525" y="638.3" width="3" height="9.7"/>
<rect x="528" y="612.1" width="3" height="35.9"/>
<rect x="532" y="624.6" width="3" height="23.4"/>
<rect x="536" y="625.7" width="3" height="22.3"/>
<rect x="539" y="637.2" width="3" height="10.8"/>
<rect x="543" y="638.3" width="3" height="9.7"/>
<rect x="547" y="637.2" width="3" height="10.8"/>
<rect x="550" y="640.2" width="3" height="7.8"/>
<rect x="554" y="640.2" width="3" height="7.8"/>
<rect x="558" y="625.4" width="3" height="22.6"/>
<rect x="561" y="633.3" width="3" height="14.7"/>
<rect x="565" y="626.1" width="3" height="21.9"/>
<rect x="569" y="639.0" width="3" height="9.0"/>
<rect x="572" y="645.4" width="3" height="2.6"/>
<rect x="576" y="643.3" width="3" height="4.7"/>
<rect x="580" y="644.0" width="3" height="4.0"/>
<rect x="583" y="645.4" width="3" height="2.6"/>
<rect x="587" y="644.4" width="3" height="3.6"/>
<rect x="591" y="642.4" width="3" height="5.6"/>
<rect x="594" y="644.4" width="3" height="3.6"/>
<rect x="598" y="638.3" width="3" height="9.7"/>
<rect x="601" y="638.3" width="3" height="9.7"/>
<rect x="605" y="643.3" width="3" height="4.7"/>
<rect x="609" y="637.2" width="3" height="10.8"/>
<rect x="612" y="636.3" width="3" height="11.7"/>
<rect x="616" y="637.2" width="3" height="10.8"/>
<rect x="620" y="633.4" width="3" height="14.6"/>
<rect x="623" y="642.1" width="3" height="5.9"/>
<rect x="627" y="646.2" width="3" height="1.8"/>
<rect x="631" y="635.2" width="3" height="12.8"/>
<rect x="634" y="635.2" width="3" height="12.8"/>
<rect x="638" y="642.1" width="3" height="5.9"/>
<rect x="642" y="621.1" width="3" height="26.9"/>
<rect x="645" y="645.1" width="3" height="2.9"/>
</g>
<g shape-rendering="crispEdges">
<line x1="44.4" y1="636" x2="63" y2="604.8" stroke="#0000ff" stroke-width="2.2"/>
<line x1="88.5" y1="638.8" x2="111.4" y2="619.7" stroke="#0000ff" stroke-width="2.2"/>
<line x1="125" y1="586.2" x2="157.7" y2="634.4" stroke="#ff0000" stroke-width="1"/>
<line x1="306.7" y1="630.8" x2="330.4" y2="643" stroke="#ff0000" stroke-width="1"/>
</g>
<g shape-rendering="crispEdges" fill="#000">
<rect x="0" y="0" width="724" height="1"/>
<rect x="0" y="137" width="724" height="1"/>
<rect x="0" y="541" width="676" height="1"/>
<rect x="0" y="648" width="676" height="1"/>
<rect x="675" y="0" width="1" height="649"/>
<rect x="676" y="127" width="3" height="1"/>
<rect x="676" y="118" width="7" height="1"/>
<rect x="676" y="109" width="3" height="1"/>
<rect x="676" y="100" width="7" height="1"/>
<rect x="676" y="91" width="3" height="1"/>
<rect x="676" y="82" width="7" height="1"/>
<rect x="676" y="73" width="3" height="1"/>
<rect x="676" y="64" width="7" height="1"/>
<rect x="676" y="55" width="3" height="1"/>
<rect x="676" y="46" width="7" height="1"/>
<rect x="676" y="37" width="3" height="1"/>
<rect x="676" y="27" width="7" height="1"/>
<rect x="676" y="18" width="3" height="1"/>
<rect x="676" y="9" width="7" height="1"/>
<rect x="676" y="540" width="3" height="1"/>
<rect x="676" y="536" width="3" height="1"/>
<rect x="676" y="532" width="7" height="1"/>
<rect x="676" y="527" width="3" height="1"/>
<rect x="676" y="523" width="3" height="1"/>
<rect x="676" y="519" width="3" height="1"/>
<rect x="676" y="515" width="3" height="1"/>
<rect x="676" y="510" width="7" height="1"/>
<rect x="676" y="506" width="3" height="1"/>
<rect x="676" y="502" width="3" height="1"/>
<rect x="676" y="498" width="3" height="1"/>
<rect x="676" y="494" width="3" height="1"/>
<rect x="676" y="490" width="7" height="1"/>
<rect x="676" y="485" width="3" height="1"/>
<rect x="676" y="481" width="3" height="1"/>
<rect x="676" y="477" width="3" height="1"/>
<rect x="676" y="473" width="3" height="1"/>
<rect x="676" y="469" width="7" height="1"/>
<rect x="676" y="465" width="3" height="1"/>
<rect x="676" y="461" width="3" height="1"/>
<rect x="676" y="457" width="3" height="1"/>
<rect x="676" y="453" width="3" height="1"/>
<rect x="676" y="449" width="7" height="1"/>
<rect x="676" y="445" width="3" height="1"/>
<rect x="676" y="441" width="3" height="1"/>
<rect x="676" y="437" width="3" height="1"/>
<rect x="676" y="433" width="3" height="1"/>
<rect x="676" y="430" width="7" height="1"/>
<rect x="676" y="426" width="3" height="1"/>
<rect x="676" y="422" width="3" height="1"/>
<rect x="676" y="418" width="3" height="1"/>
<rect x="676" y="414" width="3" height="1"/>
<rect x="676" y="410" width="7" height="1"/>
<rect x="676" y="407" width="3" height="1"/>
<rect x="676" y="403" width="3" height="1"/>
<rect x="676" y="399" width="3" height="1"/>
<rect x="676" y="395" width="3" height="1"/>
<rect x="676" y="392" width="7" height="1"/>
<rect x="676" y="388" width="3" height="1"/>
<rect x="676" y="384" width="3" height="1"/>
<rect x="676" y="380" width="3" height="1"/>
<rect x="676" y="377" width="3" height="1"/>
<rect x="676" y="373" width="7" height="1"/>
<rect x="676" y="369" width="3" height="1"/>
<rect x="676" y="366" width="3" height="1"/>
<rect x="676" y="362" width="3" height="1"/>
<rect x="676" y="359" width="3" height="1"/>
<rect x="676" y="355" width="7" height="1"/>
<rect x="676" y="351" width="3" height="1"/>
<rect x="676" y="348" width="3" height="1"/>
<rect x="676" y="344" width="3" height="1"/>
<rect x="676" y="341" width="3" height="1"/>
<rect x="676" y="337" width="7" height="1"/>
<rect x="676" y="334" width="3" height="1"/>
<rect x="676" y="330" width="3" height="1"/>
<rect x="676" y="327" width="3" height="1"/>
<rect x="676" y="323" width="3" height="1"/>
<rect x="676" y="320" width="7" height="1"/>
<rect x="676" y="316" width="3" height="1"/>
<rect x="676" y="313" width="3" height="1"/>
<rect x="676" y="309" width="3" height="1"/>
<rect x="676" y="306" width="3" height="1"/>
<rect x="676" y="303" width="7" height="1"/>
<rect x="676" y="299" width="3" height="1"/>
<rect x="676" y="296" width="3" height="1"/>
<rect x="676" y="292" width="3" height="1"/>
<rect x="676" y="289" width="3" height="1"/>
<rect x="676" y="286" width="7" height="1"/>
<rect x="676" y="282" width="3" height="1"/>
<rect x="676" y="279" width="3" height="1"/>
<rect x="676" y="276" width="3" height="1"/>
<rect x="676" y="272" width="3" height="1"/>
<rect x="676" y="269" width="7" height="1"/>
<rect x="676" y="266" width="3" height="1"/>
<rect x="676" y="263" width="3" height="1"/>
<rect x="676" y="259" width="3" height="1"/>
<rect x="676" y="256" width="3" height="1"/>
<rect x="676" y="253" width="7" height="1"/>
<rect x="676" y="250" width="3" height="1"/>
<rect x="676" y="246" width="3" height="1"/>
<rect x="676" y="243" width="3" height="1"/>
<rect x="676" y="240" width="3" height="1"/>
<rect x="676" y="237" width="7" height="1"/>
<rect x="676" y="234" width="3" height="1"/>
<rect x="676" y="231" width="3" height="1"/>
<rect x="676" y="227" width="3" height="1"/>
<rect x="676" y="224" width="3" height="1"/>
<rect x="676" y="221" width="7" height="1"/>
<rect x="676" y="218" width="3" height="1"/>
<rect x="676" y="215" width="3" height="1"/>
<rect x="676" y="212" width="3" height="1"/>
<rect x="676" y="209" width="3" height="1"/>
<rect x="676" y="206" width="7" height="1"/>
<rect x="676" y="203" width="3" height="1"/>
<rect x="676" y="199" width="3" height="1"/>
<rect x="676" y="196" width="3" height="1"/>
<rect x="676" y="193" width="3" height="1"/>
<rect x="676" y="190" width="7" height="1"/>
<rect x="676" y="187" width="3" height="1"/>
<rect x="676" y="184" width="3" height="1"/>
<rect x="676" y="181" width="3" height="1"/>
<rect x="676" y="178" width="3" height="1"/>
<rect x="676" y="175" width="7" height="1"/>
<rect x="676" y="172" width="3" height="1"/>
<rect x="676" y="169" width="3" height="1"/>
<rect x="676" y="166" width="3" height="1"/>
<rect x="676" y="163" width="3" height="1"/>
<rect x="676" y="160" width="7" height="1"/>
<rect x="676" y="158" width="3" height="1"/>
<rect x="676" y="155" width="3" height="1"/>
<rect x="676" y="152" width="3" height="1"/>
<rect x="676" y="149" width="3" height="1"/>
<rect x="676" y="146" width="7" height="1"/>
<rect x="676" y="143" width="3" height="1"/>
<rect x="676" y="140" width="3" height="1"/>
<rect x="676" y="637" width="3" height="1"/>
<rect x="676" y="626" width="3" height="1"/>
<rect x="676" y="615" width="3" height="1"/>
<rect x="676" y="604" width="3" height="1"/>
<rect x="676" y="593" width="7" height="1"/>
<rect x="676" y="582" width="3" height="1"/>
<rect x="676" y="571" width="3" height="1"/>
<rect x="676" y="560" width="3" height="1"/>
<rect x="676" y="548" width="3" height="1"/>
<rect x="8" y="648" width="1" height="18"/>
<rect x="88" y="648" width="1" height="18"/>
<rect x="172" y="648" width="1" height="18"/>
<rect x="245" y="648" width="1" height="18"/>
<rect x="322" y="648" width="1" height="18"/>
<rect x="398" y="648" width="1" height="18"/>
<rect x="471" y="648" width="1" height="18"/>
<rect x="555" y="648" width="1" height="18"/>
<rect x="628" y="648" width="1" height="18"/>
<rect x="26" y="648" width="1" height="5"/>
<rect x="44" y="648" width="1" height="5"/>
<rect x="62" y="648" width="1" height="5"/>
<rect x="81" y="648" width="1" height="5"/>
<rect x="99" y="648" width="1" height="5"/>
<rect x="117" y="648" width="1" height="5"/>
<rect x="136" y="648" width="1" height="5"/>
<rect x="154" y="648" width="1" height="5"/>
<rect x="190" y="648" width="1" height="5"/>
<rect x="209" y="648" width="1" height="5"/>
<rect x="227" y="648" width="1" height="5"/>
<rect x="263" y="648" width="1" height="5"/>
<rect x="282" y="648" width="1" height="5"/>
<rect x="300" y="648" width="1" height="5"/>
<rect x="311" y="648" width="1" height="5"/>
<rect x="325" y="648" width="1" height="5"/>
<rect x="344" y="648" width="1" height="5"/>
<rect x="362" y="648" width="1" height="5"/>
<rect x="380" y="648" width="1" height="5"/>
<rect x="416" y="648" width="1" height="5"/>
<rect x="435" y="648" width="1" height="5"/>
<rect x="453" y="648" width="1" height="5"/>
<rect x="490" y="648" width="1" height="5"/>
<rect x="508" y="648" width="1" height="5"/>
<rect x="526" y="648" width="1" height="5"/>
<rect x="545" y="648" width="1" height="5"/>
<rect x="577" y="648" width="1" height="5"/>
<rect x="591" y="648" width="1" height="5"/>
<rect x="609" y="648" width="1" height="5"/>
<rect x="646" y="648" width="1" height="5"/>
<rect x="664" y="648" width="1" height="5"/>
<rect x="677" y="635" width="24" height="1"/><rect x="677" y="635" width="1" height="13"/><rect x="700" y="635" width="1" height="13"/>
</g>
<g font-size="12px">
<text x="720.5" y="124.0" text-anchor="end">30</text>
<text x="720.5" y="105.9" text-anchor="end">40</text>
<text x="720.5" y="87.7" text-anchor="end">50</text>
<text x="720.5" y="69.5" text-anchor="end">60</text>
<text x="720.5" y="51.4" text-anchor="end">70</text>
<text x="720.5" y="33.2" text-anchor="end">80</text>
<text x="720.5" y="15.0" text-anchor="end">90</text>
<text x="720.5" y="537.7" text-anchor="end">2.25</text>
<text x="720.5" y="516.3" text-anchor="end">2.30</text>
<text x="720.5" y="495.5" text-anchor="end">2.35</text>
<text x="720.5" y="475.1" text-anchor="end">2.40</text>
<text x="720.5" y="455.1" text-anchor="end">2.45</text>
<text x="720.5" y="435.5" text-anchor="end">2.50</text>
<text x="720.5" y="416.3" text-anchor="end">2.55</text>
<text x="720.5" y="397.5" text-anchor="end">2.60</text>
<text x="720.5" y="379.0" text-anchor="end">2.65</text>
<text x="720.5" y="360.9" text-anchor="end">2.70</text>
<text x="720.5" y="343.1" text-anchor="end">2.75</text>
<text x="720.5" y="325.7" text-anchor="end">2.80</text>
<text x="720.5" y="308.5" text-anchor="end">2.85</text>
<text x="720.5" y="291.6" text-anchor="end">2.90</text>
<text x="720.5" y="275.1" text-anchor="end">2.95</text>
<text x="720.5" y="258.8" text-anchor="end">3.00</text>
<text x="720.5" y="242.7" text-anchor="end">3.05</text>
<text x="720.5" y="227.0" text-anchor="end">3.10</text>
<text x="720.5" y="211.5" text-anchor="end">3.15</text>
<text x="720.5" y="196.2" text-anchor="end">3.20</text>
<text x="720.5" y="181.2" text-anchor="end">3.25</text>
<text x="720.5" y="166.4" text-anchor="end">3.30</text>
<text x="720.5" y="151.8" text-anchor="end">3.35</text>
<text x="719.5" y="598.8" text-anchor="end">50000</text>
<text x="11" y="663" font-size="11.75px">September</text>
<text x="91" y="663" font-size="11.75px">October</text>
<text x="175" y="663" font-size="11.75px">November</text>
<text x="248" y="663" font-size="11.75px">December</text>
<text x="325" y="663" font-size="11.75px">2004</text>
<text x="401" y="663" font-size="11.75px">February</text>
<text x="474" y="663" font-size="11.75px">March</text>
<text x="558" y="663" font-size="11.75px">April</text>
<text x="631" y="663" font-size="11.75px">May</text>
</g>
<text x="679" y="645" font-size="9px">x100</text>
<text x="201.8" y="151" font-size="12px" textLength="271" lengthAdjust="spacingAndGlyphs">BPI (3.04000, 3.04000, 2.97000, 2.98000, -0.05000)</text>
<text x="241.8" y="15" font-size="12px" textLength="188.5" lengthAdjust="spacingAndGlyphs">On Balance Volume (-26,718,072.0)</text>
<text x="249.7" y="15" font-size="12px" textLength="174.8" lengthAdjust="spacingAndGlyphs">Relative Strength Index (27.1872)</text>
</svg></body></html>
